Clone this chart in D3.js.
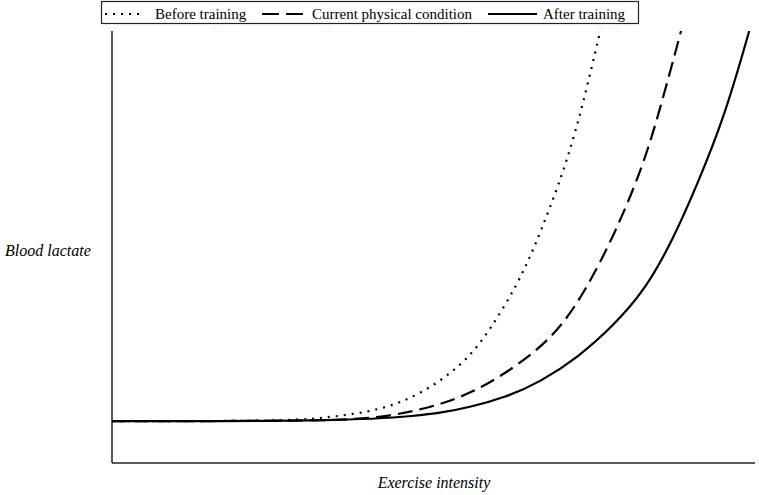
<!DOCTYPE html>
<html><head><meta charset="utf-8">
<script src="https://cdn.jsdelivr.net/npm/d3@7"></script>
<style>body{margin:0;background:#fff}svg{display:block}
text{font-family:"Liberation Serif","Times New Roman",Times,serif;font-size:15px;fill:#000}</style>
</head><body>
<svg id="c" width="759" height="495"></svg>
<script>
// Exercise intensity (0-100) vs blood lactate (0-100)
const seriesNames = ["Before training", "Current physical condition", "After training"];
const beforeTraining = [[0,9.7],[26.1,9.7],[32.3,10.3],[40.1,11.8],[45.3,14.1],[50.5,18.3],[55.2,23.8],[58.8,30.8],[63.0,41.2],[65.5,49.3],[68.1,59.0],[70.8,70.1],[73.3,83.3],[75.9,99.8]];
const currentCondition = [[0,9.7],[33.9,9.7],[42.8,10.6],[51.0,13.4],[56.1,16.4],[61.4,20.9],[66.6,26.7],[70.0,31.9],[73.6,39.8],[78.2,53.0],[82.6,68.8],[85.2,81.7],[88.5,100]];
const afterTraining = [[0,9.7],[37.0,9.7],[47.9,11.0],[51.0,11.6],[55.4,12.8],[61.4,15.3],[66.6,18.75],[72.5,24.5],[77.8,31.5],[82.9,40.0],[87.2,51.6],[91.0,64.4],[95.3,80.3],[99.1,100]];
const xTitle = "Exercise intensity";
const yTitle = "Blood lactate";

const svg = d3.select("#c");
const x = d3.scaleLinear().domain([0,100]).range([112,755]);
const y = d3.scaleLinear().domain([0,100]).range([463,31]);

svg.append("defs").append("clipPath").attr("id","clip")
  .append("rect").attr("x",112).attr("y",31).attr("width",647).attr("height",432);

// axes
svg.append("line").attr("x1",x(0)).attr("x2",x(0)).attr("y1",y(100)).attr("y2",y(0))
  .attr("stroke","#222").attr("stroke-width",1.5);
svg.append("line").attr("x1",x(0)).attr("x2",x(100)).attr("y1",y(0)).attr("y2",y(0))
  .attr("stroke","#222").attr("stroke-width",1.5);

const line = d3.line().x(d=>x(d[0])).y(d=>y(d[1])).curve(d3.curveBasis);
const styles = [
  {data: beforeTraining, dash: "2,6"},
  {data: currentCondition, dash: "15,7"},
  {data: afterTraining, dash: null}
];
const g = svg.append("g").attr("clip-path","url(#clip)");
styles.forEach(s=>{
  g.append("path").attr("d", line(s.data)).attr("fill","none")
   .attr("stroke","#000").attr("stroke-width",2.2)
   .attr("stroke-dasharray", s.dash);
});

// titles
svg.append("text").attr("x",5).attr("y",256).text(yTitle).style("font-style","italic").style("font-size","16px");
svg.append("text").attr("x",434).attr("y",488).attr("text-anchor","middle").text(xTitle).style("font-style","italic").style("font-size","16px");

// legend
svg.append("rect").attr("x",101.5).attr("y",1.5).attr("width",537).attr("height",22)
  .attr("fill","#fff").attr("stroke","#222").attr("stroke-width",1.2);
const legendItems = [
  {x1:105, x2:143, tx:155, dash:"2,6"},
  {x1:262, x2:304, tx:312, dash:"17,7"},
  {x1:488, x2:537, tx:543, dash:null}
];
legendItems.forEach((l,i)=>{
  svg.append("line").attr("x1",l.x1).attr("x2",l.x2).attr("y1",14).attr("y2",14)
    .attr("stroke","#000").attr("stroke-width",2).attr("stroke-dasharray",l.dash);
  svg.append("text").attr("x",l.tx).attr("y",19).text(seriesNames[i]);
});
</script>
</body></html>
